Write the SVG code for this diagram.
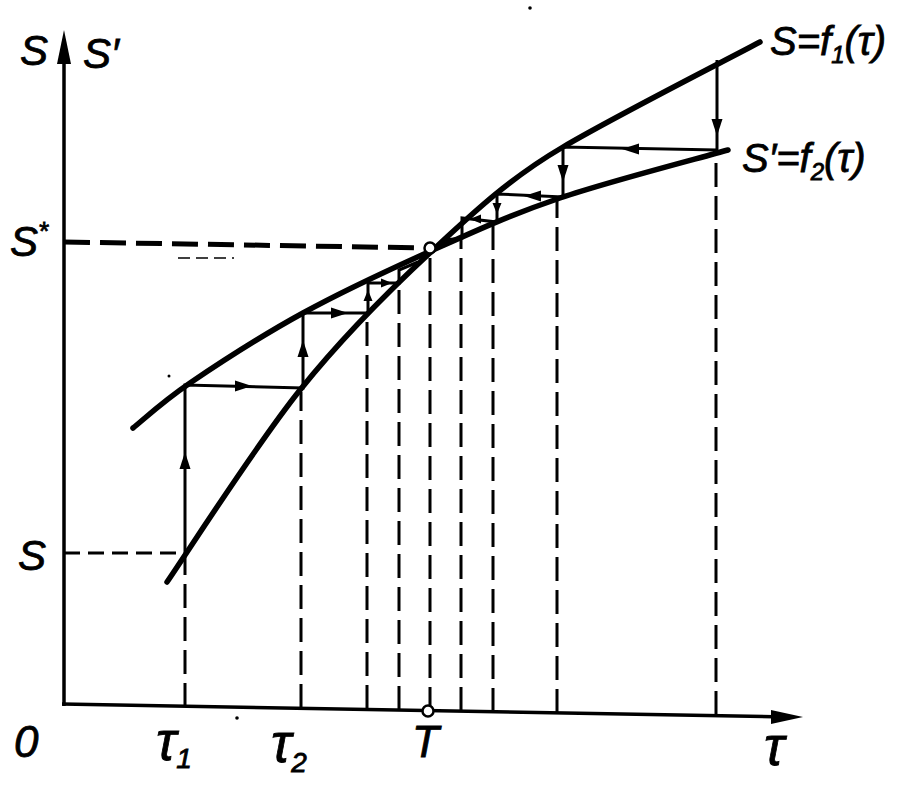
<svg xmlns="http://www.w3.org/2000/svg" width="924" height="792" viewBox="0 0 924 792">
<style>
.ax{stroke:#000;stroke-width:3.5;fill:none}
.crv{stroke:#000;stroke-width:5.5;fill:none;stroke-linecap:round;stroke-linejoin:round}
.cw{stroke:#000;stroke-width:3;fill:none}
.ds{stroke:#000;stroke-width:3;fill:none;stroke-dasharray:24 9}
.lb{font-family:"Liberation Sans",Arial,sans-serif;font-style:italic;fill:#000;stroke:#000;stroke-width:0.8}
</style>
<defs>
<path id="ah" d="M0,0 L-17,-5.5 L-17,5.5 Z" fill="#000"/>
<path id="ahs" d="M0,0 L-11,-4.5 L-11,4.5 Z" fill="#000"/>
</defs>
<rect width="924" height="792" fill="#fff"/>
<g id="axes">
<line class="ax" x1="64" y1="706" x2="64" y2="50"/>
<path d="M64,30 L57,64 L71,64 Z" fill="#000"/>
<line class="ax" x1="62" y1="704" x2="785" y2="717"/>
<path d="M803,717 L771,710 L771,724 Z" fill="#000"/>
</g>
<g id="curve-f1">
<path class="crv" d="M167,582 C189,550 255.7,445.3 300,390 C344.3,334.7 389.2,290.5 433,250 C474,212 510,178 563,147 C617.5,115 727.2,59.5 760,42"/>
</g>
<g id="curve-f2">
<path class="crv" d="M133,428 C142.5,420.5 161.7,402.2 190,383 C218.3,363.8 262.5,335.2 303,313 C343.5,290.8 390.2,269.2 433,250 C475.8,230.8 510.8,214.7 560,198 C609.2,181.3 700,158 728,150"/>
</g>
<g id="connectors">
<line class="ds" x1="64" y1="242" x2="430" y2="248" style="stroke-width:5;stroke-dasharray:26 10"/>
<line class="cw" x1="178" y1="258" x2="234" y2="258" style="stroke-width:1.5;stroke-dasharray:12 6"/>
<line class="ds" x1="64" y1="553" x2="185" y2="553" style="stroke-dasharray:16 8"/>
<line class="ds" x1="185" y1="707" x2="185" y2="553"/>
<line class="ds" x1="301" y1="708" x2="301" y2="392"/>
<line class="ds" x1="367" y1="709" x2="367" y2="316"/>
<line class="ds" x1="399" y1="710" x2="399" y2="286"/>
<line class="ds" x1="430" y1="711" x2="430" y2="252"/>
<line class="ds" x1="461" y1="711" x2="461" y2="238"/>
<line class="ds" x1="493" y1="712" x2="493" y2="225"/>
<line class="ds" x1="557" y1="713" x2="557" y2="200"/>
<line class="ds" x1="716" y1="715" x2="716" y2="155"/>
<polyline class="cw" points="185,553 185,385 303,388 303,313 368,313 368,283 399,283 399,270 418,262"/>
<polyline class="cw" points="717,60 717,150 563,147 563,197 497,194 497,222 462,218 462,238 445,240"/>
<use href="#ah" transform="translate(185,452) rotate(-90)"/>
<use href="#ah" transform="translate(252,386) rotate(0)"/>
<use href="#ah" transform="translate(303,340) rotate(-90)"/>
<use href="#ah" transform="translate(348,313) rotate(0)"/>
<use href="#ahs" transform="translate(368,290) rotate(-90)"/>
<use href="#ahs" transform="translate(392,283) rotate(0)"/>
<use href="#ah" transform="translate(717,136) rotate(90)"/>
<use href="#ah" transform="translate(622,149) rotate(180)"/>
<use href="#ah" transform="translate(563,182) rotate(90)"/>
<use href="#ah" transform="translate(524,196) rotate(180)"/>
<use href="#ahs" transform="translate(497,214) rotate(90)"/>
<use href="#ahs" transform="translate(470,219) rotate(180)"/>
<circle cx="430" cy="248" r="5.5" fill="#fff" stroke="#000" stroke-width="2.5"/>
<circle cx="428" cy="711" r="5.5" fill="#fff" stroke="#000" stroke-width="2.5"/>
<circle cx="237" cy="718" r="1.8" fill="#000"/>
<circle cx="530" cy="8" r="1.8" fill="#000"/>
<circle cx="169" cy="376" r="1.5" fill="#000"/>
</g>
<g id="labels">
<text class="lb" x="20" y="65" font-size="42">S</text>
<text class="lb" x="83" y="68" font-size="42">S′</text>
<text class="lb" x="10" y="256" font-size="42">S<tspan dy="-16" font-size="26">*</tspan></text>
<text class="lb" x="18" y="570" font-size="42">S</text>
<text class="lb" x="14" y="757" font-size="44">0</text>
<text class="lb" x="156" y="760" font-size="54">τ<tspan dy="8" font-size="28">1</tspan></text>
<text class="lb" x="271" y="762" font-size="54">τ<tspan dy="10" font-size="28">2</tspan></text>
<text class="lb" x="412" y="757" font-size="44">T</text>
<text class="lb" x="764" y="765" font-size="54">τ</text>
<text class="lb" x="770" y="55" font-size="40">S=f<tspan dy="8" font-size="24">1</tspan><tspan dy="-8">(τ)</tspan></text>
<text class="lb" x="742" y="172" font-size="40">S′=f<tspan dy="8" font-size="24">2</tspan><tspan dy="-8">(τ)</tspan></text>
</g>
</svg>
